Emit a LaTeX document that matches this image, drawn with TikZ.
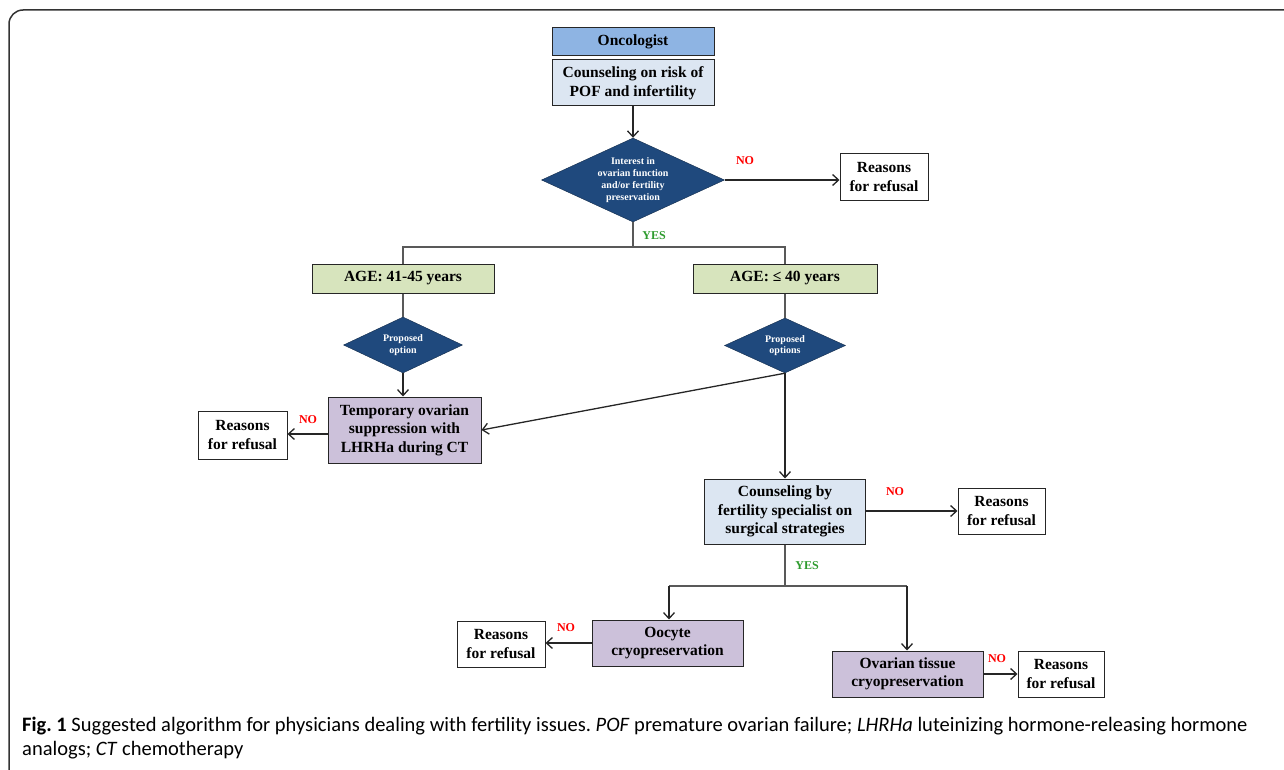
\documentclass[tikz,border=0pt]{standalone}
\usepackage{fontspec}
\setmainfont{Liberation Serif}
\newfontfamily\capfont{Carlito}
\usetikzlibrary{shapes.geometric,arrows.meta}
\frenchspacing
\definecolor{onco}{HTML}{8EB4E3}
\definecolor{lblue}{HTML}{DCE6F2}
\definecolor{lgreen}{HTML}{D7E4BD}
\definecolor{lpurple}{HTML}{CCC1DA}
\definecolor{navy}{HTML}{1F497D}
\definecolor{nored}{HTML}{FF0000}
\definecolor{yesgreen}{HTML}{2E9B2E}
\definecolor{linegray}{HTML}{595959}
\tikzset{
  box/.style={draw=black!85, line width=1pt, rectangle, inner sep=0pt, align=center,
    font=\fontsize{15.5}{18.5}\selectfont\bfseries},
  dia/.style={diamond, aspect=2.2, draw=navy!60!black, fill=navy, inner sep=0pt, align=center,
    text=white, font=\fontsize{10}{11.8}\selectfont\bfseries},
  arr/.style={draw=black!85, line width=1.3pt, -{Straight Barb[length=6pt,width=11pt,line width=1.3pt]}},
  ln/.style={draw=linegray, line width=1.2pt},
  nolab/.style={text=nored, font=\fontsize{12}{14}\selectfont\bfseries},
  yeslab/.style={text=yesgreen, font=\fontsize{12}{14}\selectfont\bfseries},
}
\begin{document}
\begin{tikzpicture}[x=1pt,y=-1pt]
\useasboundingbox (0,0) rectangle (1284,770);
\draw[line width=1.5pt, black!80, rounded corners=14pt] (9,790) -- (9,10) -- (1300,10);

% top
\node[box, fill=onco, minimum width=162pt, minimum height=28pt] (onc) at (633,42) {Oncologist};
\node[box, fill=lblue, minimum width=162pt, minimum height=46pt] (cons) at (633,83) {Counseling on risk of\\POF and infertility};
\node[dia, minimum width=183pt, minimum height=84pt] (d1) at (633,180) {Interest in\\ovarian function\\and/or fertility\\preservation};
\node[box, fill=white, minimum width=88pt, minimum height=47pt] (r1) at (884,177) {Reasons\\for refusal};
\draw[arr] (cons.south) -- (d1.north);
\draw[arr] (d1.east) -- (d1.east -| r1.west);
\node[nolab] (no1) at (745,161) {NO};

% yes branch
\node[yeslab] (yes1) at (654,236) {YES};
\node[box, fill=lgreen, minimum width=182pt, minimum height=29pt] (age1) at (403,278.5) {AGE: 41-45 years};
\node[box, fill=lgreen, minimum width=184pt, minimum height=29pt] (age2) at (785,278.5) {AGE: ≤ 40 years};
\coordinate (j1) at (633,247);
\draw[ln] (d1.south) -- (j1);
\draw[ln] (age1.north) |- (j1) -| (age2.north);

% left branch
\node[dia, minimum width=119pt, minimum height=56pt] (d2) at (403,345) {Proposed\\option};
\node[dia, minimum width=121pt, minimum height=55pt] (d3) at (785,345.5) {Proposed\\options};
\draw[ln] (age1.south) -- (d2.north);
\draw[ln] (age2.south) -- (d3.north);
\node[box, fill=lpurple, minimum width=153pt, minimum height=66pt] (temp) at (404.5,430) {Temporary ovarian\\suppression with\\LHRHa during CT};
\draw[arr] (d2.south) -- (temp.north -| d2.south);
\draw[arr] (d3.south) -- (temp.east);
\node[box, fill=white, minimum width=89pt, minimum height=48pt] (r2) at (242.5,435) {Reasons\\for refusal};
\draw[arr] (temp.west |- 0,434) -- (r2.east |- 0,434);
\node[nolab] (no2) at (308,420) {NO};

% right branch
\node[box, fill=lblue, minimum width=161pt, minimum height=65pt] (cfert) at (785,511.5) {Counseling by\\fertility specialist on\\surgical strategies};
\draw[arr] (d3.south) -- (cfert.north);
\node[box, fill=white, minimum width=87pt, minimum height=46pt] (r3) at (1001.5,511) {Reasons\\for refusal};
\draw[arr] (cfert.east |- r3.west) -- (r3.west);
\node[nolab] (no3) at (895,492) {NO};

\node[yeslab] (yes2) at (807,566) {YES};
\coordinate (j2) at (785,586);
\node[box, fill=lpurple, minimum width=151pt, minimum height=46pt] (oo) at (667.5,643) {Oocyte\\cryopreservation};
\node[box, fill=lpurple, minimum width=151pt, minimum height=46pt] (ot) at (907.5,674) {Ovarian tissue\\cryopreservation};
\draw[ln] (cfert.south) -- (j2);
\draw[ln] (j2) -- (669,586) coordinate (j3) -- (907,586) coordinate (j4);
\draw[arr] (j3) -- (j3 |- oo.north);
\draw[arr] (j4) -- (j4 |- ot.north);

\node[box, fill=white, minimum width=88pt, minimum height=46pt] (r4) at (501,644) {Reasons\\for refusal};
\draw[arr] (oo.west) -- (oo.west -| r4.east);
\node[nolab] (no4) at (566,628) {NO};
\node[box, fill=white, minimum width=86pt, minimum height=46pt] (r5) at (1061,674) {Reasons\\for refusal};
\draw[arr] (ot.east) -- (r5.west);
\node[nolab] (no5) at (997,659) {NO};

% caption
\node[anchor=base west, inner sep=0pt, font=\capfont\fontsize{20.5}{24}\selectfont] (cap1) at (22,731)
  {\textbf{Fig. 1} Suggested algorithm for physicians dealing with fertility issues. \textit{POF} premature ovarian failure; \textit{LHRHa} luteinizing hormone-releasing hormone};
\node[anchor=base west, inner sep=0pt, font=\capfont\fontsize{20.5}{24}\selectfont] (cap2) at (22,755)
  {analogs; \textit{CT} chemotherapy};
\end{tikzpicture}
\end{document}
